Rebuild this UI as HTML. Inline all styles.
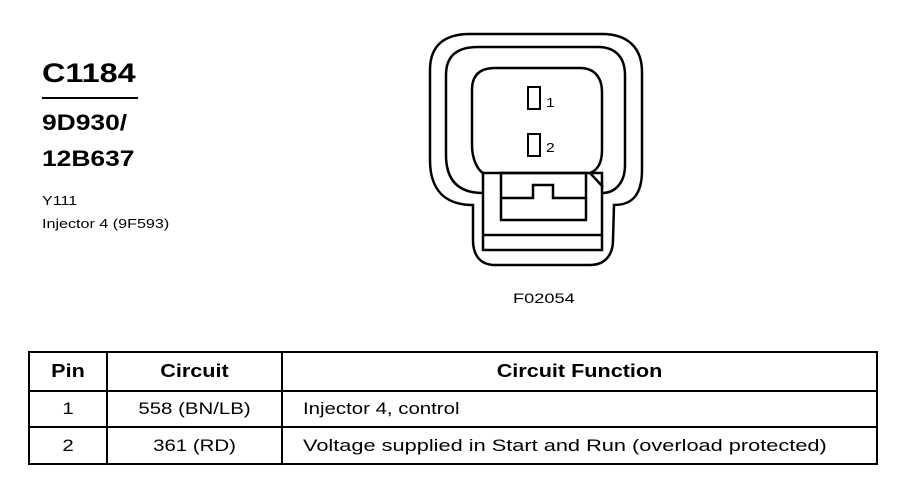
<!DOCTYPE html>
<html><head><style>
body{margin:0;background:#fff;width:900px;height:480px;position:relative;font-family:"Liberation Sans",Arial,sans-serif;color:#000;overflow:hidden}
.t{position:absolute;white-space:nowrap;transform:scaleX(1.2);transform-origin:left center}
.c{transform-origin:center center}
</style></head><body>
<div class="t" style="left:42px;top:58px;font-size:27px;font-weight:bold">C1184</div>
<div style="position:absolute;left:42px;top:97px;width:96px;height:2px;background:#000"></div>
<div class="t" style="left:42px;top:110px;font-size:22px;font-weight:bold">9D930/</div>
<div class="t" style="left:42px;top:146px;font-size:22px;font-weight:bold">12B637</div>
<div class="t" style="left:42px;top:193px;font-size:13px;transform:scaleX(1.24)">Y111</div>
<div class="t" style="left:42px;top:216px;font-size:13px;transform:scaleX(1.24)">Injector 4 (9F593)</div>
<div class="t" style="left:513px;top:290px;font-size:14px;transform:scaleX(1.3)">F02054</div>
<svg width="900" height="480" style="position:absolute;left:0;top:0" fill="none" stroke="#000" stroke-width="2.5">
<path d="M473 205 C445 205 430 190 430 160 L430 70 C430 45 445 34 470 34 L602 34 C628 34 642 48 642 72 L642 170 C642 195 632 205 614 205 L613 240 C613 255 605 265 590 265 L495 265 C480 265 473 255 473 240 Z"/>
<path d="M483 193 C458 193 446 180 446 155 L446 75 C446 55 458 47 478 47 L598 47 C615 47 625 57 625 75 L625 165 C625 183 615 193 602 193"/>
<path d="M483 173 C478 170 472 160 472 145 L472 90 C472 75 480 68 495 68 L580 68 C594 68 602 77 602 92 L602 150 C602 162 598 170 590 173 L603 187"/>
<rect x="483" y="173" width="119" height="77"/>
<line x1="483" y1="235" x2="602" y2="235"/>
<rect x="501" y="173" width="85" height="47"/>
<path d="M501 198 L533 198 L533 185 L553 185 L553 198 L586 198"/>
<rect x="528" y="87" width="12" height="22" stroke-width="2"/>
<rect x="528" y="134" width="12" height="22" stroke-width="2"/>
<rect x="29" y="352" width="848" height="112" stroke-width="2"/>
<line x1="29" y1="391" x2="877" y2="391" stroke-width="2"/>
<line x1="29" y1="427" x2="877" y2="427" stroke-width="2"/>
<line x1="107" y1="352" x2="107" y2="464" stroke-width="2"/>
<line x1="282" y1="352" x2="282" y2="464" stroke-width="2"/>
</svg>
<div class="t" style="left:546px;top:95px;font-size:13px">1</div>
<div class="t" style="left:546px;top:140px;font-size:13px">2</div>
<div class="t c" style="left:29px;width:78px;text-align:center;top:361px;font-size:18px;font-weight:bold">Pin</div>
<div class="t c" style="left:107px;width:175px;text-align:center;top:361px;font-size:18px;font-weight:bold">Circuit</div>
<div class="t c" style="left:282px;width:595px;text-align:center;top:361px;font-size:18px;font-weight:bold">Circuit Function</div>
<div class="t c" style="left:29px;width:78px;text-align:center;top:399px;font-size:17px">1</div>
<div class="t c" style="left:107px;width:175px;text-align:center;top:399px;font-size:17px">558 (BN/LB)</div>
<div class="t" style="left:303px;top:399px;font-size:17px">Injector 4, control</div>
<div class="t c" style="left:29px;width:78px;text-align:center;top:436px;font-size:17px">2</div>
<div class="t c" style="left:107px;width:175px;text-align:center;top:436px;font-size:17px">361 (RD)</div>
<div class="t" style="left:303px;top:436px;font-size:17px;transform:scaleX(1.28)">Voltage supplied in Start and Run (overload protected)</div>
</body></html>
